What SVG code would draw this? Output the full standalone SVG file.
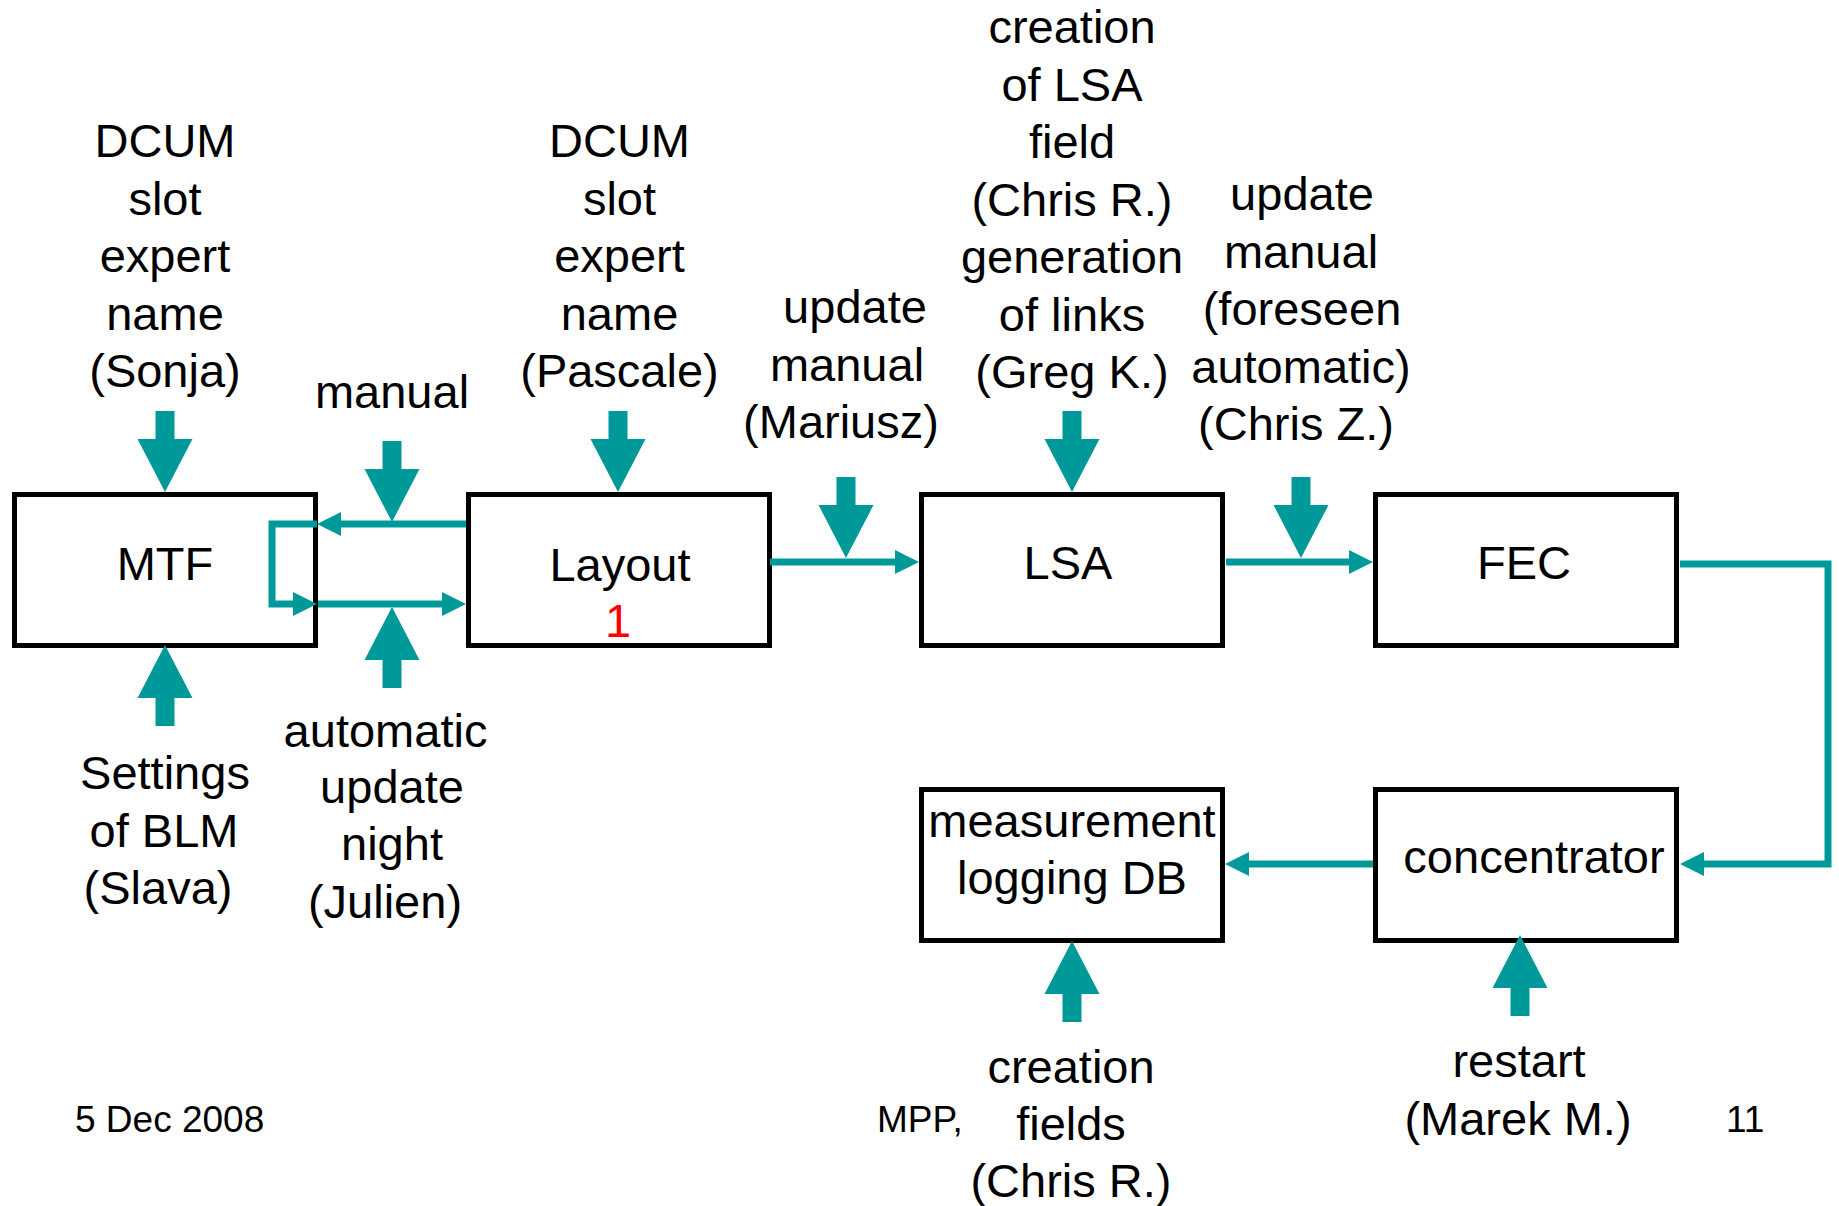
<svg xmlns="http://www.w3.org/2000/svg" xmlns:xlink="http://www.w3.org/1999/xlink" width="1839" height="1206" viewBox="0 0 1839 1206">
<style>
  .box { fill: #ffffff; stroke: #000000; stroke-width: 5; }
  .t { font-family: "Liberation Sans", Arial, sans-serif; font-size: 47px; fill: #000000; text-anchor: middle; }
  .foot { font-family: "Liberation Sans", Arial, sans-serif; font-size: 37px; fill: #000000; }
  .red { fill: #ff0000; }
  .conn { fill: none; stroke: #009999; stroke-width: 7; stroke-linejoin: miter; }
  .blk { fill: #009999; }
</style>
<defs>
  <marker id="ah" viewBox="0 0 24 24" refX="12" refY="12" markerWidth="24" markerHeight="24" markerUnits="userSpaceOnUse" orient="auto">
    <path d="M0,0 L24,12 L0,24 Z" fill="#009999"/>
  </marker>
  <path id="down" d="M0,0 L-27.5,-53 L-9.5,-53 L-9.5,-81 L9.5,-81 L9.5,-53 L27.5,-53 Z"/>
  <path id="up" d="M0,0 L-27.5,53 L-9.5,53 L-9.5,81 L9.5,81 L9.5,53 L27.5,53 Z"/>
</defs>
<rect width="1839" height="1206" fill="#ffffff"/>

<g id="node-mtf">
  <rect class="box" x="14.5" y="494.5" width="301" height="151"/>
  <text class="t" x="165" y="580">MTF</text>
</g>
<g id="node-layout">
  <rect class="box" x="468.5" y="494.5" width="301" height="151"/>
  <text class="t" x="620" y="581">Layout</text>
  <text class="t red" x="618" y="637">1</text>
</g>
<g id="node-lsa">
  <rect class="box" x="921.5" y="494.5" width="301" height="151"/>
  <text class="t" x="1068" y="579">LSA</text>
</g>
<g id="node-fec">
  <rect class="box" x="1375.5" y="494.5" width="301" height="151"/>
  <text class="t" x="1524" y="579">FEC</text>
</g>
<g id="node-measurement">
  <rect class="box" x="921.5" y="789.5" width="301" height="151"/>
  <text class="t" x="1072" y="837">measurement</text>
  <text class="t" x="1072" y="894">logging DB</text>
</g>
<g id="node-concentrator">
  <rect class="box" x="1375.5" y="789.5" width="301" height="151"/>
  <text class="t" x="1534" y="873">concentrator</text>
</g>

<g id="connectors">
  <path class="conn" d="M466,524 L329,524" marker-end="url(#ah)"/>
  <path class="conn" d="M317,524 L272,524 L272,604 L305,604" marker-end="url(#ah)"/>
  <path class="conn" d="M318,604 L454,604" marker-end="url(#ah)"/>
  <path class="conn" d="M770,562 L907,562" marker-end="url(#ah)"/>
  <path class="conn" d="M1226,562 L1361,562" marker-end="url(#ah)"/>
  <path class="conn" d="M1680,564 L1828,564 L1828,864 L1692,864" marker-end="url(#ah)"/>
  <path class="conn" d="M1373,864 L1237,864" marker-end="url(#ah)"/>
</g>

<g id="input-arrows">
  <use xlink:href="#down" class="blk" x="165" y="492"/>
  <use xlink:href="#down" class="blk" x="392" y="522"/>
  <use xlink:href="#down" class="blk" x="618" y="492"/>
  <use xlink:href="#down" class="blk" x="846" y="558"/>
  <use xlink:href="#down" class="blk" x="1072" y="492"/>
  <use xlink:href="#down" class="blk" x="1301" y="558"/>
  <use xlink:href="#up" class="blk" x="165" y="645"/>
  <use xlink:href="#up" class="blk" x="392" y="607"/>
  <use xlink:href="#up" class="blk" x="1072" y="941"/>
  <use xlink:href="#up" class="blk" x="1520" y="935"/>
</g>

<g id="label-sonja">
  <text class="t" x="165" y="157">DCUM</text>
  <text class="t" x="165" y="214.5">slot</text>
  <text class="t" x="165" y="272">expert</text>
  <text class="t" x="165" y="329.5">name</text>
  <text class="t" x="165" y="387">(Sonja)</text>
</g>
<g id="label-manual">
  <text class="t" x="392" y="408">manual</text>
</g>
<g id="label-pascale">
  <text class="t" x="619.5" y="157">DCUM</text>
  <text class="t" x="619.5" y="214.5">slot</text>
  <text class="t" x="619.5" y="272">expert</text>
  <text class="t" x="619.5" y="329.5">name</text>
  <text class="t" x="619.5" y="387">(Pascale)</text>
</g>
<g id="label-mariusz">
  <text class="t" x="855" y="323">update</text>
  <text class="t" x="847" y="380.5">manual</text>
  <text class="t" x="841" y="438">(Mariusz)</text>
</g>
<g id="label-lsa">
  <text class="t" x="1072" y="43">creation</text>
  <text class="t" x="1072" y="100.5">of LSA</text>
  <text class="t" x="1072" y="158">field</text>
  <text class="t" x="1072" y="215.5">(Chris R.)</text>
  <text class="t" x="1072" y="273">generation</text>
  <text class="t" x="1072" y="330.5">of links</text>
  <text class="t" x="1072" y="388">(Greg K.)</text>
</g>
<g id="label-chrisz">
  <text class="t" x="1302" y="210">update</text>
  <text class="t" x="1301" y="267.5">manual</text>
  <text class="t" x="1302" y="325">(foreseen</text>
  <text class="t" x="1301" y="382.5">automatic)</text>
  <text class="t" x="1296" y="440">(Chris Z.)</text>
</g>
<g id="label-settings">
  <text class="t" x="165" y="789">Settings</text>
  <text class="t" x="164" y="846.5">of BLM</text>
  <text class="t" x="158" y="904">(Slava)</text>
</g>
<g id="label-auto">
  <text class="t" x="385.5" y="746.5">automatic</text>
  <text class="t" x="392" y="803">update</text>
  <text class="t" x="392" y="860">night</text>
  <text class="t" x="385" y="918">(Julien)</text>
</g>
<g id="label-creation-fields">
  <text class="t" x="1071" y="1083">creation</text>
  <text class="t" x="1071" y="1140">fields</text>
  <text class="t" x="1071" y="1197">(Chris R.)</text>
</g>
<g id="label-restart">
  <text class="t" x="1519" y="1077">restart</text>
  <text class="t" x="1518" y="1135">(Marek M.)</text>
</g>

<g id="footer">
  <text class="foot" x="75" y="1132">5 Dec 2008</text>
  <text class="foot" x="877" y="1132">MPP,</text>
  <text class="foot" x="1726" y="1132">11</text>
</g>
</svg>
